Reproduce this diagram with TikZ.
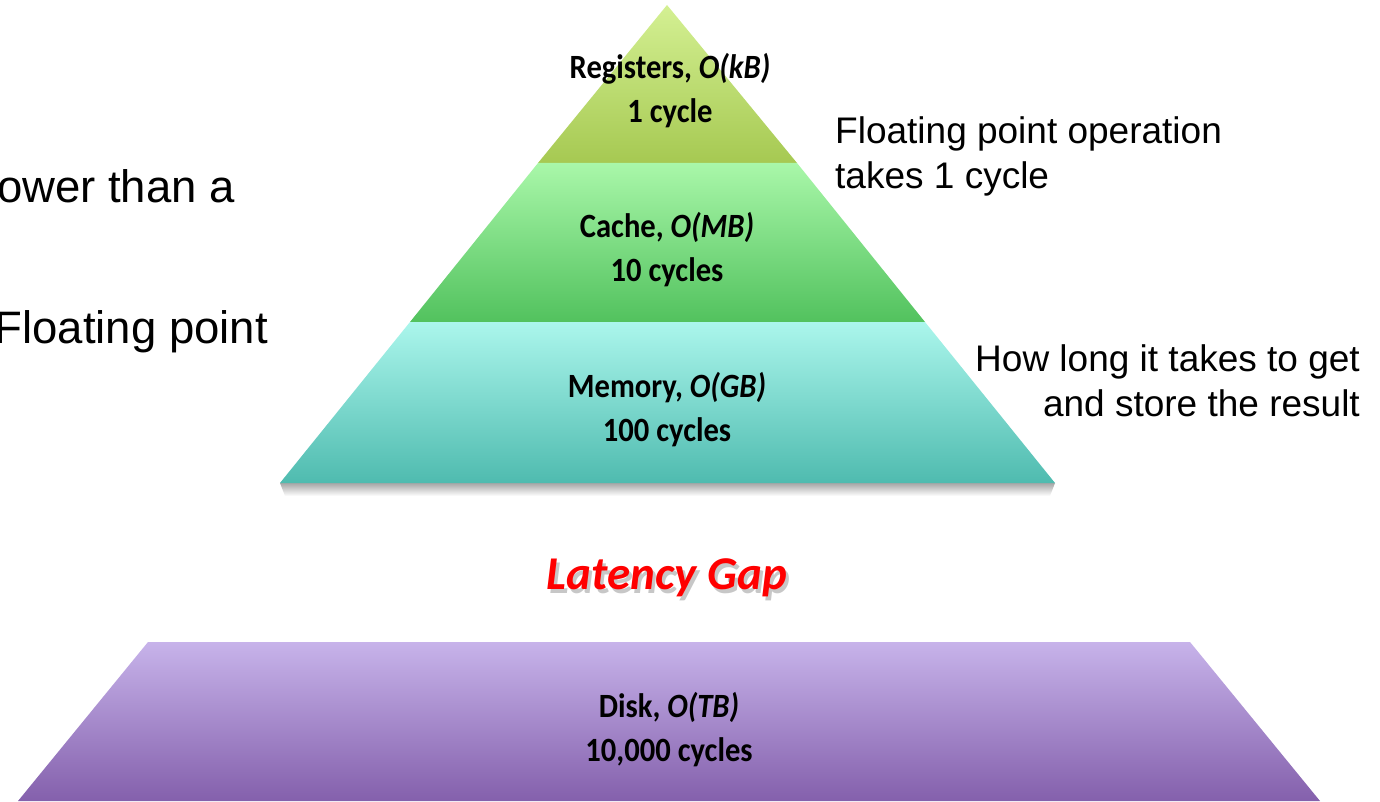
\documentclass[tikz,border=0pt]{standalone}
\usepackage{fontspec}
\setmainfont{Liberation Sans}
\newfontfamily\tierfont[FakeStretch=0.9]{Carlito}
\newfontfamily\gapfont{Carlito}
\definecolor{regTop}{HTML}{D4F093}
\definecolor{regBot}{HTML}{A6C952}
\definecolor{cacheTop}{HTML}{A9F7A9}
\definecolor{cacheBot}{HTML}{52C25E}
\definecolor{memTop}{HTML}{ABF6EC}
\definecolor{memBot}{HTML}{4FBBAF}
\definecolor{diskTop}{HTML}{C7B3EA}
\definecolor{diskBot}{HTML}{8460AC}
\begin{document}
\begin{tikzpicture}[x=1pt,y=-1pt,
  tierlabel/.style={font=\tierfont\bfseries\fontsize{34}{44}\selectfont, align=center, inner sep=0},
  gaplabel/.style={font=\gapfont\bfseries\itshape\fontsize{47}{50}\selectfont, inner sep=0},
  sidetext/.style={font=\fontsize{37}{45}\selectfont, inner sep=0},
  bigtext/.style={font=\fontsize{45.5}{50}\selectfont, inner sep=0}]
\useasboundingbox (0,0) rectangle (1380,802);

% soft shadow under the pyramid base
\shade[top color=black!35, bottom color=white] (280,483) -- (1055,483) -- (1050,496) -- (285,496) -- cycle;

% pyramid tiers
\shade[top color=regTop, bottom color=regBot] (667,5) -- (797,163) -- (538,163) -- cycle;
\shade[top color=cacheTop, bottom color=cacheBot] (538,163) -- (797,163) -- (925,322) -- (410,322) -- cycle;
\shade[top color=memTop, bottom color=memBot] (410,322) -- (925,322) -- (1055,483) -- (280,483) -- cycle;

% disk trapezoid
\shade[top color=diskTop, bottom color=diskBot] (148,642) -- (1190,642) -- (1320,801) -- (18,801) -- cycle;

% tier labels
\node[tierlabel] (reg) at (670,91) {Registers, \textit{O(kB)}\\1 cycle};
\node[tierlabel] (cache) at (667,250) {Cache, \textit{O(MB)}\\10 cycles};
\node[tierlabel] (mem) at (667,410) {Memory, \textit{O(GB)}\\100 cycles};
\node[tierlabel] (disk) at (669,730) {Disk, \textit{O(TB)}\\10,000 cycles};

% gap label with its drop shadow
\node[gaplabel, text=black!22] (gapshadow) at (670,582) {Latency Gap};
\node[gaplabel, text=red] (gap) at (667,578) {Latency Gap};

% notes on the right
\node[sidetext, anchor=base west] (fp1) at (835,144) {Floating point operation};
\node[sidetext, anchor=base west] (fp2) at (835,189) {takes 1 cycle};
\node[sidetext, anchor=base east] (hl1) at (1360,371) {How long it takes to get};
\node[sidetext, anchor=base east] (hl2) at (1360,416) {and store the result};

% text running in from the left edge
\node[bigtext, anchor=base east] (lt1) at (235,203) {ower than a};
\node[bigtext, anchor=base east] (lt2) at (268,343) {Floating point};
\end{tikzpicture}
\end{document}
